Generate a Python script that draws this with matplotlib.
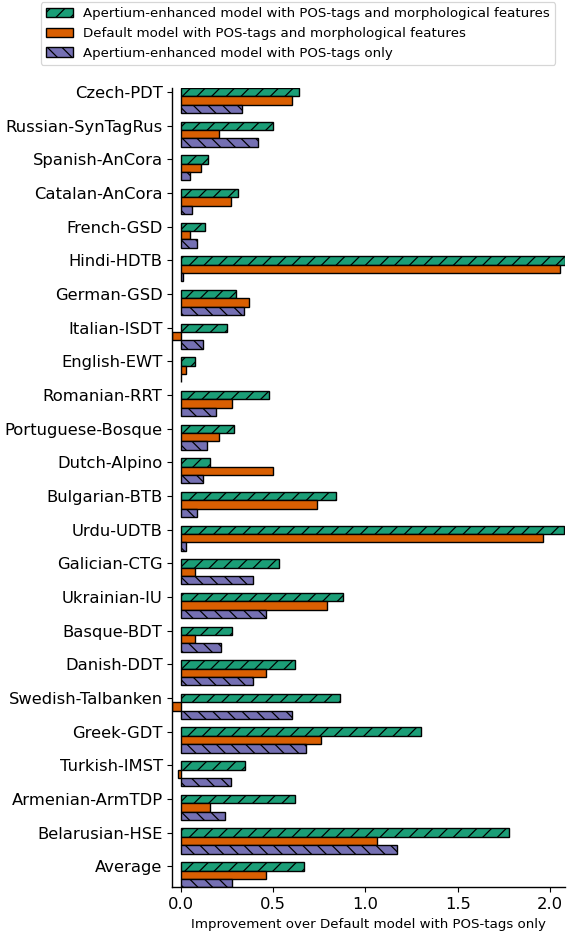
import numpy as np
import matplotlib
matplotlib.use("Agg")
import matplotlib.pyplot as plt

categories = ["Czech-PDT", "Russian-SynTagRus", "Spanish-AnCora", "Catalan-AnCora",
              "French-GSD", "Hindi-HDTB", "German-GSD", "Italian-ISDT", "English-EWT",
              "Romanian-RRT", "Portuguese-Bosque", "Dutch-Alpino", "Bulgarian-BTB",
              "Urdu-UDTB", "Galician-CTG", "Ukrainian-IU", "Basque-BDT", "Danish-DDT",
              "Swedish-Talbanken", "Greek-GDT", "Turkish-IMST", "Armenian-ArmTDP",
              "Belarusian-HSE", "Average"]

apertium_morph = [0.64, 0.50, 0.15, 0.31, 0.13, 2.08, 0.30, 0.25, 0.08, 0.48, 0.29, 0.16,
                  0.84, 2.075, 0.53, 0.88, 0.28, 0.62, 0.86, 1.30, 0.35, 0.62, 1.78, 0.67]
default_morph = [0.60, 0.21, 0.11, 0.27, 0.05, 2.055, 0.37, -0.045, 0.03, 0.28, 0.21, 0.50,
                 0.74, 1.96, 0.08, 0.79, 0.08, 0.46, -0.045, 0.76, -0.015, 0.16, 1.06, 0.46]
apertium_pos = [0.33, 0.42, 0.05, 0.06, 0.09, 0.01, 0.34, 0.12, 0.003, 0.19, 0.14, 0.12,
                0.09, 0.03, 0.39, 0.46, 0.22, 0.39, 0.60, 0.68, 0.27, 0.24, 1.17, 0.28]

labels = ["Apertium-enhanced model with POS-tags and morphological features",
          "Default model with POS-tags and morphological features",
          "Apertium-enhanced model with POS-tags only"]
colors = ["#1b9e77", "#d95f02", "#7570b3"]
hatches = ["//", None, "\\\\"]

DPI = 88
S = 100.0 / DPI  # point scale so sizes match a 100-dpi rendering
W, H = 568, 934

fig = plt.figure(figsize=(W / DPI, H / DPI), dpi=DPI)
ax = fig.add_axes([172.4 / W, 0.0499, 392.5 / W, 0.856])

ind = np.arange(len(categories))
h = 0.25
series = [apertium_morph, default_morph, apertium_pos]
handles = []
for i, (vals, c, ht, lab) in enumerate(zip(series, colors, hatches, labels)):
    b = ax.barh(ind + i * h, vals, height=h, color=c, edgecolor="black",
                linewidth=1.0 * S, hatch=ht, label=lab)
    handles.append(b)

ax.set_yticks(ind)
ax.set_yticklabels(categories, fontsize=11.8 * S)
ax.invert_yaxis()
ax.margins(x=0, y=0)
ax.set_xticks([0.0, 0.5, 1.0, 1.5, 2.0])
ax.set_xticklabels(["0.0", "0.5", "1.0", "1.5", "2.0"], fontsize=11.8 * S)
ax.tick_params(length=3.5 * S, width=0.8 * S, pad=3.5 * S)
ax.set_xlabel("Improvement over Default model with POS-tags only", fontsize=9.6 * S,
              labelpad=4 * S)
ax.spines["top"].set_visible(False)
ax.spines["right"].set_visible(False)
for s in ["left", "bottom"]:
    ax.spines[s].set_linewidth(1.0 * S)

fig.legend(handles=handles, labels=labels, loc="upper left",
           bbox_to_anchor=(40.7 / W, 1 - 2 / H), borderaxespad=0,
           fontsize=9.6 * S)

fig.savefig("out.png", dpi=DPI)
